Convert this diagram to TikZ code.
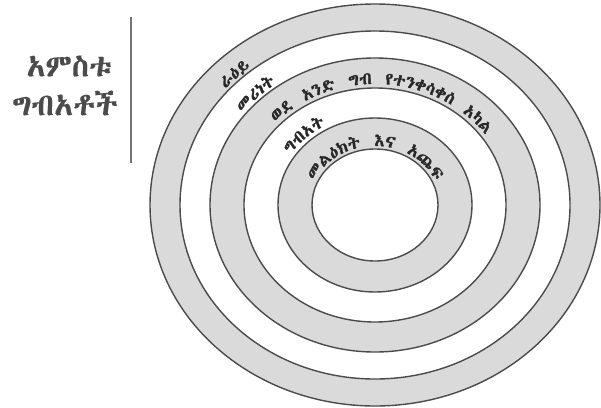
\documentclass[tikz,border=0pt]{standalone}
\usepackage{fontspec}
\usetikzlibrary{decorations.text}
\IfFontExistsTF{Abyssinica SIL}{\def\ethname{Abyssinica SIL}}{%
 \IfFontExistsTF{FreeSans}{\def\ethname{FreeSans}}{%
  \IfFontExistsTF{Unifont}{\def\ethname{Unifont}}{%
   \IfFontExistsTF{Menbere}{\def\ethname{Menbere}}{%
    \IfFontExistsTF{Kefa}{\def\ethname{Kefa}}{%
     \IfFontExistsTF{Nyala}{\def\ethname{Nyala}}{%
      \IfFontExistsTF{Code2000}{\def\ethname{Code2000}}{%
       \def\ethname{DejaVu Sans}}}}}}}}
\newfontfamily\ethfont{\ethname}[FakeBold=0.4]
\newfontfamily\ethbold{\ethname}[FakeBold=1.6, LetterSpace=32]
\definecolor{ringgray}{RGB}{218,218,218}
\definecolor{linegray}{RGB}{75,75,75}
\definecolor{txtgray}{RGB}{75,75,75}
\definecolor{arcink}{RGB}{40,40,40}
\begin{document}
\begin{tikzpicture}[x=1pt,y=1pt,
  ring/.style={draw=linegray, line width=1.4pt},
  bigtext/.style={font=\ethfont\fontsize{31}{33}\selectfont, text=txtgray, inner sep=0pt},
  arctext/.style={decorate, decoration={text along path, text align=center, text color=arcink, text={|\ethbold\fontsize{17}{17}\selectfont|#1}}}
]
\useasboundingbox[fill=white] (0,0) rectangle (601,-407);
% left title
\node[bigtext] (five) at (69,-66) {አምስቱ};
\node[bigtext] (inputs) at (65,-103) {ግብአቶች};
\coordinate (ltop) at (131,-17);
\coordinate (lbot) at (131,-163);
\draw[draw=black!55, line width=2.4pt] (ltop) -- (lbot);
% rings
\begin{scope}[shift={(375,-205)}]
\coordinate (c) at (0,0);
\filldraw[ring, fill=ringgray] (c) ellipse [x radius=225, y radius=201];
\filldraw[ring, fill=white] (c) ellipse [x radius=195, y radius=174];
\filldraw[ring, fill=ringgray] (c) ellipse [x radius=165, y radius=147];
\filldraw[ring, fill=white] (c) ellipse [x radius=131, y radius=117];
\filldraw[ring, fill=ringgray] (c) ellipse [x radius=97, y radius=87];
\filldraw[ring, fill=white] (c) ellipse [x radius=63, y radius=56];
% texts along rings
\path[arctext={ራዕይ}] (160:{1.12*177} and 177) arc[start angle=160, end angle=109, x radius={1.12*177}, y radius=177];
\path[arctext={መሪነት}] (168:{1.12*150} and 150) arc[start angle=168, end angle=102, x radius={1.12*150}, y radius=150];
\path[arctext={ወደ አንድ ግብ የተንቀሳቀሰ አካል}] (176:{1.12*121} and 121) arc[start angle=176, end angle=-4, x radius={1.12*121}, y radius=121];
\path[arctext={ግብአት}] (171:{1.12*91} and 91) arc[start angle=171, end angle=96, x radius={1.12*91}, y radius=91];
\path[arctext={መልዕክት እና አጨፍ}] (182:{1.12*59} and 59) arc[start angle=182, end angle=-2, x radius={1.12*59}, y radius=59];
\end{scope}
\end{tikzpicture}
\end{document}
